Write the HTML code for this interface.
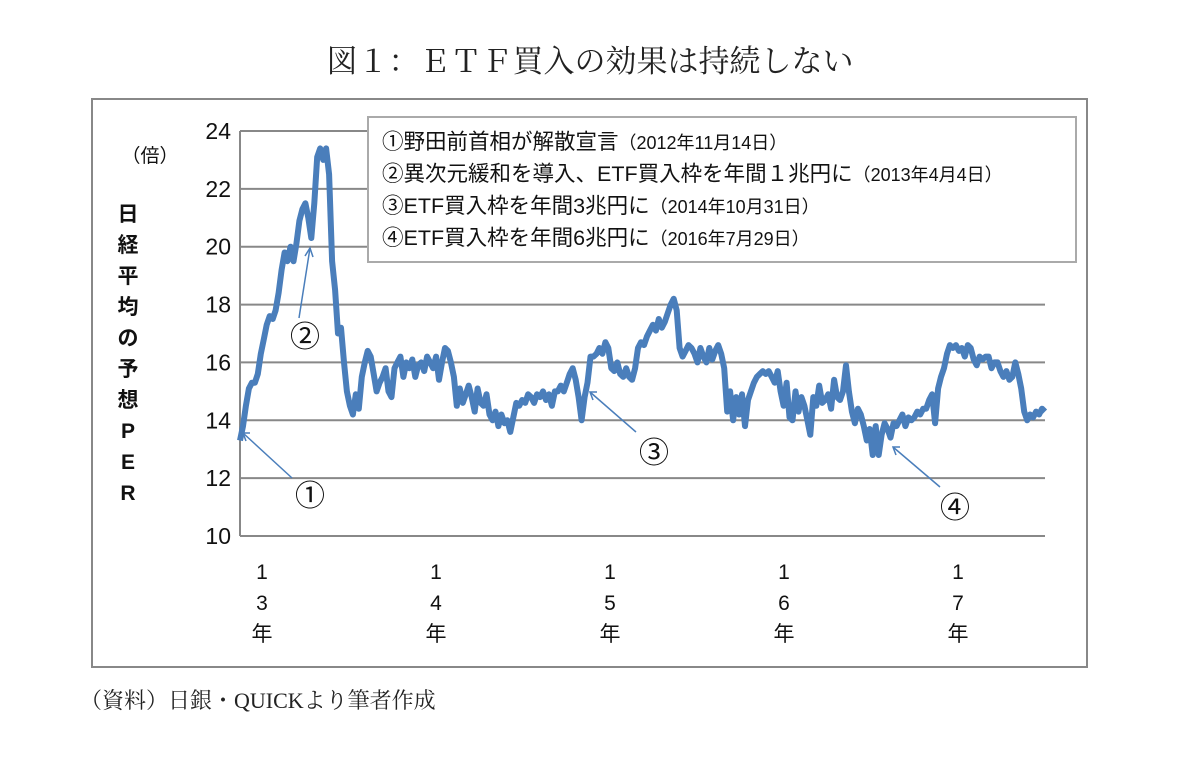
<!DOCTYPE html>
<html><head><meta charset="utf-8">
<style>
html,body{margin:0;padding:0;background:#fff;width:1199px;height:759px;overflow:hidden}
text{font-family:"Liberation Sans","Noto Sans CJK JP",sans-serif}
.serif{font-family:"Liberation Serif","Noto Serif CJK SC",serif}
</style></head>
<body>
<svg id="chart" width="1199" height="759" xmlns="http://www.w3.org/2000/svg">
<text class="serif" x="590" y="72" font-size="31" text-anchor="middle" fill="#222">図１：ＥＴＦ買入の効果は持続しない</text>
<rect x="92" y="99" width="995" height="568" fill="#fff" stroke="#888" stroke-width="2"/>
<g id="grid"></g>
<g id="yticks"></g>
<g id="xticks"></g>
<text x="150" y="162" font-size="19" text-anchor="middle" fill="#111">（倍）</text>
<g id="ytitle" font-size="21" font-weight="bold" fill="#111"></g>
<path id="line" fill="none" stroke="#4a7ebb" stroke-width="6" stroke-linejoin="round"/>
<g>
<rect x="368" y="117" width="708" height="145" fill="#fff" stroke="#aaa" stroke-width="2"/>
<text x="382" y="149" font-size="21.5" fill="#111">①野田前首相が解散宣言<tspan font-size="18">（2012年11月14日）</tspan></text>
<text x="382" y="181" font-size="21.5" fill="#111">②異次元緩和を導入、ETF買入枠を年間１兆円に<tspan font-size="18">（2013年4月4日）</tspan></text>
<text x="382" y="213" font-size="21.5" fill="#111">③ETF買入枠を年間3兆円に<tspan font-size="18">（2014年10月31日）</tspan></text>
<text x="382" y="245" font-size="21.5" fill="#111">④ETF買入枠を年間6兆円に<tspan font-size="18">（2016年7月29日）</tspan></text>
</g>
<g stroke="#4a7ebb" stroke-width="1.5" fill="none">
<line x1="292" y1="478" x2="243" y2="433"/><polyline points="250,433 243,433 246,441"/>
<line x1="299" y1="318" x2="310" y2="248"/><polyline points="305,256 310,248 313,257"/>
<line x1="636" y1="432" x2="590" y2="392"/><polyline points="597,392 590,392 593,400"/>
<line x1="940" y1="487" x2="893" y2="447"/><polyline points="900,447 893,447 896,455"/>
</g>
<g font-size="30" fill="#111" text-anchor="middle">
<text x="310" y="506">①</text>
<text x="305" y="347">②</text>
<text x="654" y="463">③</text>
<text x="955" y="518">④</text>
</g>
<text class="serif" x="80" y="708" font-size="22" fill="#222">（資料）日銀・QUICKより筆者作成</text>
</svg>
<script>
const yTicks=[10,12,14,16,18,20,22,24];
const yearLabels=["13","14","15","16","17"];
const per=[13.3,13.8,14.5,15.1,15.3,15.3,15.6,16.3,16.8,17.3,17.6,17.5,17.8,18.4,19.2,19.8,19.5,20.0,19.5,20.1,20.9,21.3,21.5,21.0,20.3,21.5,23.1,23.4,23.0,23.4,22.5,19.5,18.5,17.0,17.2,16.0,15.0,14.5,14.2,14.9,14.4,15.5,16.0,16.4,16.2,15.6,15.0,15.3,15.5,15.8,15.0,14.8,15.8,16.0,16.2,15.5,16.0,15.8,16.1,15.5,15.9,16.0,15.7,16.2,16.0,15.8,16.2,15.4,16.0,16.5,16.4,16.0,15.5,14.5,15.1,14.6,14.9,15.2,14.8,14.3,15.1,14.6,14.5,14.9,14.2,14.0,14.3,13.8,14.2,13.9,14.0,13.6,14.1,14.6,14.5,14.7,14.6,14.9,14.8,14.6,14.9,14.8,15.0,14.7,14.9,14.5,15.0,15.0,15.2,15.0,15.3,15.6,15.8,15.4,14.8,14.0,14.8,15.3,16.2,16.2,16.3,16.5,16.3,16.7,16.5,15.8,15.7,16.0,15.6,15.5,15.8,15.5,15.4,15.8,16.5,16.7,16.6,16.9,17.1,17.3,17.1,17.5,17.2,17.4,17.7,18.0,18.2,17.8,16.5,16.2,16.4,16.6,16.5,16.3,16.0,16.5,16.2,16.0,16.5,16.1,16.4,16.6,16.3,15.8,14.3,15.0,14.0,14.8,14.2,14.9,13.8,14.7,15.0,15.3,15.5,15.6,15.7,15.6,15.7,15.5,15.3,15.7,15.0,14.5,15.3,14.1,14.0,15.0,14.3,14.8,14.5,14.0,13.5,14.8,14.5,15.2,14.6,14.7,14.9,14.4,15.4,14.8,14.7,15.0,15.9,15.0,14.3,13.9,14.4,14.2,13.8,13.3,13.7,12.8,13.8,12.8,13.5,13.9,13.7,13.4,13.9,13.8,14.0,14.2,13.8,14.1,14.0,14.1,14.3,14.2,14.4,14.4,14.7,14.9,13.9,15.1,15.5,15.8,16.3,16.6,16.5,16.6,16.4,16.5,16.2,16.6,16.5,16.1,15.9,16.2,16.1,16.2,16.2,15.8,16.0,16.0,15.7,15.5,15.7,15.4,15.5,16.0,15.6,15.1,14.3,14.0,14.2,14.1,14.3,14.2,14.4,14.3];
const X0=240,X1=1045,Y0=536,Y1=131,ymin=10,ymax=24;
const ys=v=>Y0-(v-ymin)/(ymax-ymin)*(Y0-Y1);
const xi=i=>X0+i/(per.length-1)*(X1-X0);
const NS="http://www.w3.org/2000/svg";
const grid=document.getElementById('grid'),yt=document.getElementById('yticks');
yTicks.forEach(v=>{
  const l=document.createElementNS(NS,'line');
  
  
  l.setAttribute('x1',X0);l.setAttribute('x2',X1);l.setAttribute('y1',ys(v));l.setAttribute('y2',ys(v));
  l.setAttribute('stroke','#888');l.setAttribute('stroke-width','2');grid.appendChild(l);
  const t=document.createElementNS(NS,'text');
  
  
  t.setAttribute('x',231);t.setAttribute('y',ys(v)+8);t.setAttribute('text-anchor','end');t.setAttribute('font-size','23');t.setAttribute('fill','#111');
  t.textContent=v;yt.appendChild(t);
});
const ax=document.createElementNS(NS,'line');


ax.setAttribute('x1',X0);ax.setAttribute('x2',X0);ax.setAttribute('y1',Y1);ax.setAttribute('y2',Y0);ax.setAttribute('stroke','#888');ax.setAttribute('stroke-width','2');grid.appendChild(ax);
const xt=document.getElementById('xticks');
yearLabels.forEach((lab,k)=>{
  const x=X0+22+k*174;
  [lab[0],lab[1],'年'].forEach((c,j)=>{
    const t=document.createElementNS(NS,'text');
    
    
    t.setAttribute('x',x);t.setAttribute('y',579+j*31);t.setAttribute('text-anchor','middle');t.setAttribute('font-size','21');t.setAttribute('fill','#111');
    t.textContent=c;xt.appendChild(t);
  });
});
const yt2=document.getElementById('ytitle');
['日','経','平','均','の','予','想','P','E','R'].forEach((c,j)=>{
  const t=document.createElementNS(NS,'text');
  
  
  t.setAttribute('x',128);t.setAttribute('y',221+j*31);t.setAttribute('text-anchor','middle');
  t.textContent=c;yt2.appendChild(t);
});
document.getElementById('line').setAttribute('d',per.map((v,i)=>(i?'L':'M')+xi(i).toFixed(1)+','+ys(v).toFixed(1)).join(''));
</script>
</body></html>
